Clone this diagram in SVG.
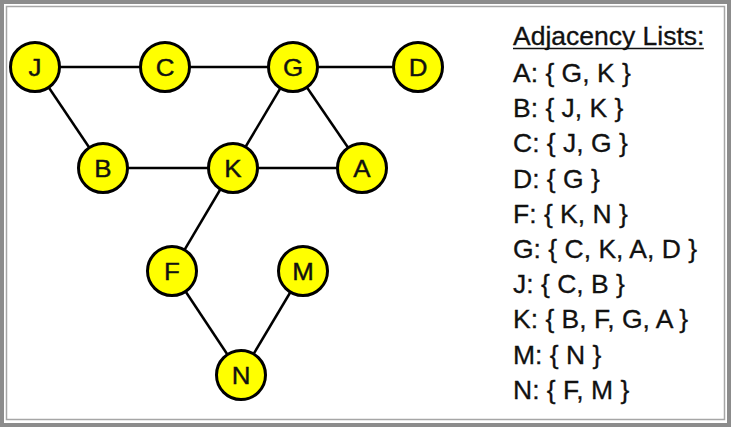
<svg xmlns="http://www.w3.org/2000/svg" width="731" height="427" viewBox="0 0 731 427">
<style>
.frame{fill:#fff;stroke:#8c8c8c;stroke-width:4}
.inner{fill:none;stroke:#a6a6a6;stroke-width:1.5}
.node circle{fill:#ffff00;stroke:#000;stroke-width:3}
.node text{font-family:"Liberation Sans",Arial,sans-serif;font-size:24px;fill:#111;stroke:#111;stroke-width:0.4;text-anchor:middle}
.edges line{stroke:#000;stroke-width:2.5}
.list text{font-family:"Liberation Sans",Arial,sans-serif;font-size:25px;fill:#111;stroke:#111;stroke-width:0.3}
</style>
<rect class="frame" x="2" y="2" width="727" height="423"/>
<rect class="inner" x="6.5" y="6.5" width="718" height="413"/>
<g id="connectors" class="edges">
<line x1="35" y1="67" x2="165" y2="67"/>
<line x1="165" y1="67" x2="293" y2="67"/>
<line x1="293" y1="67" x2="418" y2="67"/>
<line x1="35" y1="67" x2="103" y2="168"/>
<line x1="103" y1="168" x2="233" y2="168"/>
<line x1="233" y1="168" x2="362" y2="168"/>
<line x1="233" y1="168" x2="293" y2="67"/>
<line x1="293" y1="67" x2="362" y2="168"/>
<line x1="233" y1="168" x2="172" y2="271"/>
<line x1="172" y1="271" x2="241" y2="375"/>
<line x1="241" y1="375" x2="303" y2="271"/>
</g>
<g id="node-J" class="node"><circle cx="35" cy="67" r="24.5"/><text transform="translate(35,67) scale(1.08,1)" y="8.5">J</text></g>
<g id="node-C" class="node"><circle cx="165" cy="67" r="24.5"/><text transform="translate(165,67) scale(1.08,1)" y="8.5">C</text></g>
<g id="node-G" class="node"><circle cx="293" cy="67" r="24.5"/><text transform="translate(293,67) scale(1.08,1)" y="8.5">G</text></g>
<g id="node-D" class="node"><circle cx="418" cy="67" r="24.5"/><text transform="translate(418,67) scale(1.08,1)" y="8.5">D</text></g>
<g id="node-B" class="node"><circle cx="103" cy="168" r="24.5"/><text transform="translate(103,168) scale(1.08,1)" y="8.5">B</text></g>
<g id="node-K" class="node"><circle cx="233" cy="168" r="24.5"/><text transform="translate(233,168) scale(1.08,1)" y="8.5">K</text></g>
<g id="node-A" class="node"><circle cx="362" cy="168" r="24.5"/><text transform="translate(362,168) scale(1.08,1)" y="8.5">A</text></g>
<g id="node-F" class="node"><circle cx="172" cy="271" r="24.5"/><text transform="translate(172,271) scale(1.08,1)" y="8.5">F</text></g>
<g id="node-M" class="node"><circle cx="303" cy="271" r="24.5"/><text transform="translate(303,271) scale(1.08,1)" y="8.5">M</text></g>
<g id="node-N" class="node"><circle cx="241" cy="375" r="24.5"/><text transform="translate(241,375) scale(1.08,1)" y="8.5">N</text></g>
<g id="adjacency-lists" class="list" transform="translate(513,0) scale(1.06,1)">
<text x="0" y="45">Adjacency Lists:</text>
<line x1="0" y1="48.5" x2="180" y2="48.5" stroke="#111" stroke-width="1.6"/>
<text x="0" y="82">A: { G, K }</text>
<text x="0" y="117">B: { J, K }</text>
<text x="0" y="152">C: { J, G }</text>
<text x="0" y="188">D: { G }</text>
<text x="0" y="223">F: { K, N }</text>
<text x="0" y="258">G: { C, K, A, D }</text>
<text x="0" y="293">J: { C, B }</text>
<text x="0" y="328">K: { B, F, G, A }</text>
<text x="0" y="364">M: { N }</text>
<text x="0" y="399">N: { F, M }</text>
</g>
</svg>
